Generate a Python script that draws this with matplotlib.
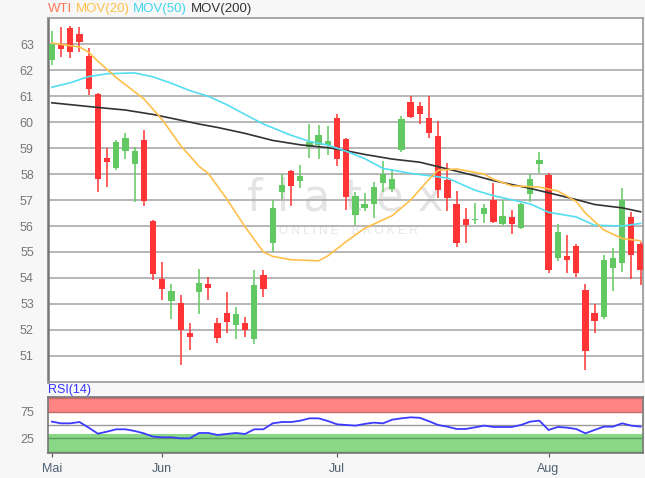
import matplotlib
matplotlib.use("Agg")
import matplotlib.pyplot as plt
import numpy as np

# daily candles (WTI)
opens = [62.40, 63.00, 63.62, 63.42, 62.55, 61.08, 58.63, 58.24, 58.91, 58.38,
         59.31, 56.19, 53.95, 53.12, 53.05, 51.86, 53.47, 53.76, 52.27, 52.65,
         52.20, 52.28, 51.66, 54.11, 55.33, 57.32, 58.13, 57.73, 59.03, 59.12,
         59.12, 60.15, 59.35, 56.44, 56.68, 56.83, 57.64, 57.41, 58.93, 60.79,
         60.62, 60.15, 59.47, 57.77, 56.83, 56.26, 56.22, 56.48, 57.02, 56.06,
         56.35, 55.93, 57.23, 58.39, 57.96, 54.77, 54.85, 55.24, 53.53, 52.65,
         52.50, 54.39, 54.56, 56.35, 55.29]
highs = [63.51, 63.68, 63.70, 63.66, 62.85, 61.11, 58.99, 59.31, 59.60, 59.04,
         59.70, 56.24, 54.62, 53.75, 53.36, 52.28, 54.33, 54.04, 52.44, 53.44,
         52.86, 52.50, 54.30, 54.30, 57.00, 57.99, 58.16, 58.35, 59.93, 59.89,
         59.85, 60.30, 59.40, 57.32, 57.28, 57.70, 58.50, 58.19, 60.25, 61.01,
         60.79, 61.01, 60.04, 58.41, 57.34, 56.68, 56.87, 56.83, 57.64, 57.00,
         56.61, 56.87, 57.99, 58.84, 58.03, 56.06, 55.65, 55.29, 53.75, 53.01,
         54.90, 55.16, 57.47, 56.55, 55.39]
lows = [62.20, 62.52, 62.49, 62.72, 61.05, 57.32, 57.51, 58.15, 58.60, 56.91,
        56.77, 53.91, 53.14, 52.43, 50.64, 51.24, 52.61, 53.15, 51.48, 51.89,
        51.66, 51.73, 51.47, 53.27, 55.00, 57.04, 56.78, 57.45, 58.63, 58.60,
        58.73, 58.32, 56.61, 56.03, 56.57, 56.32, 57.32, 57.32, 58.84, 60.15,
        59.95, 59.40, 57.09, 56.57, 55.20, 55.33, 56.06, 56.10, 56.10, 56.03,
        55.71, 55.88, 56.93, 58.03, 54.17, 54.65, 54.17, 54.04, 50.44, 51.86,
        52.41, 53.49, 54.23, 53.95, 53.72]
closes = [63.00, 62.81, 62.72, 63.08, 61.28, 57.83, 58.48, 59.25, 59.40, 58.91,
          56.97, 54.14, 53.59, 53.50, 51.98, 51.73, 53.81, 53.60, 51.67, 52.31,
          52.59, 51.98, 53.72, 53.59, 56.70, 57.58, 57.54, 57.94, 59.25, 59.50,
          59.27, 58.60, 57.13, 57.15, 56.83, 57.49, 57.99, 57.83, 60.11, 60.21,
          60.31, 59.57, 57.38, 57.09, 55.33, 56.03, 56.26, 56.71, 56.16, 56.38,
          56.06, 56.84, 57.83, 58.54, 54.30, 55.78, 54.68, 54.17, 51.19, 52.33,
          54.68, 54.77, 57.00, 54.88, 54.30]

# moving averages, sampled at candle indices
ma20_idx = [0, 3, 4, 5, 7, 10, 12, 14, 16, 17, 19, 21, 23, 24, 26, 29, 30, 32, 34,
            37, 39, 41, 42, 44, 47, 48, 50, 53, 55, 57, 58, 60, 62, 64]
ma20 = [63.05, 62.90, 62.70, 62.35, 61.72, 60.90, 60.10, 59.10, 58.30, 58.03, 57.05,
        55.97, 55.00, 54.83, 54.70, 54.66, 54.85, 55.40, 55.91, 56.40, 57.00, 57.80,
        58.15, 58.20, 58.00, 57.80, 57.55, 57.50, 57.35, 56.95, 56.50, 55.85, 55.52, 55.43]
ma50_idx = [0, 2, 4, 6, 9, 11, 13, 15, 17, 19, 21, 23, 26, 28, 30, 32, 34, 36, 39,
            43, 46, 48, 52, 54, 57, 59, 62, 64]
ma50 = [61.35, 61.52, 61.76, 61.87, 61.90, 61.75, 61.50, 61.22, 61.00, 60.68, 60.30,
        59.93, 59.50, 59.26, 59.12, 58.88, 58.60, 58.22, 58.03, 57.85, 57.38, 57.17,
        56.85, 56.53, 56.35, 56.03, 56.00, 56.10]
ma200_idx = [0, 5, 8, 11, 14, 16, 18, 21, 24, 27, 30, 32, 34, 37, 40, 43, 46, 48,
             52, 54, 57, 59, 62, 64]
ma200 = [60.75, 60.57, 60.47, 60.30, 60.08, 59.93, 59.80, 59.57, 59.30, 59.13, 59.02,
         58.90, 58.76, 58.58, 58.46, 58.20, 57.94, 57.75, 57.45, 57.28, 57.02, 56.83,
         56.70, 56.55]

rsi = [56.3, 53.1, 53.1, 55.6, 45.0, 33.7, 37.5, 41.9, 41.9, 38.7,
       34.3, 28.1, 26.8, 26.8, 24.9, 24.9, 35.0, 35.0, 31.2, 33.1,
       35.0, 33.1, 41.9, 41.9, 53.1, 55.6, 55.6, 58.0, 62.5, 62.5,
       57.5, 51.3, 50.0, 48.8, 52.0, 54.4, 53.1, 60.0, 62.5, 64.4,
       63.5, 57.0, 50.0, 46.9, 42.5, 42.5, 45.6, 48.8, 46.3, 46.3,
       46.3, 50.0, 56.3, 58.2, 40.6, 46.3, 45.0, 42.5, 34.3, 40.6,
       46.9, 46.9, 53.1, 48.8, 46.9]

month_pos = [0, 12, 31, 54]
month_labels = ["Mai", "Jun", "Jul", "Aug"]

plt.rcParams['font.family'] = ['Liberation Sans', 'DejaVu Sans']

RED = '#ff3535'
GREEN = '#62c862'

fig = plt.figure(figsize=(6.45, 4.78), dpi=100, facecolor='#f7f7f7')
ax = fig.add_axes([0.074, 0.2015, 0.9234, 0.7615])
ax2 = fig.add_axes([0.074, 0.0517, 0.9234, 0.1184])

x = np.arange(len(opens))
o = np.array(opens)
c = np.array(closes)
cols = [GREEN if cc >= oo else RED for oo, cc in zip(o, c)]
ax.vlines(x, lows, highs, colors=cols, linewidth=1.1, zorder=3)
ax.bar(x, np.maximum(np.abs(c - o), 0.05), bottom=np.minimum(o, c), width=0.68,
       color=cols, zorder=4)

ax.plot(ma200_idx, ma200, color='#333333', lw=1.2, zorder=5)
ax.plot(ma50_idx, ma50, color='#55ddf2', lw=1.2, zorder=5)
ax.plot(ma20_idx, ma20, color='#ffc04a', lw=1.2, zorder=5)

# watermark
ax.text(0.5, 0.505, "f l a t e x", transform=ax.transAxes, fontsize=32, color='#e4e4e4',
        ha='center', va='center', zorder=0.3, family='DejaVu Sans')
ax.text(0.505, 0.415, "O N L I N E    B R O K E R", transform=ax.transAxes, fontsize=8.5,
        color='#e6e6e6', ha='center', va='center', zorder=0.3)

ax.set_xlim(-0.45, 64.3)
ax.set_ylim(50.0, 64.03)
ax.set_yticks(range(51, 64))
ax.yaxis.grid(True, color='#aaaaaa', lw=1.2)
ax.set_axisbelow(True)
ax.set_xticks([])
ax.tick_params(axis='y', length=0, pad=10, labelsize=9, labelcolor='#777777')
for s in ax.spines.values():
    s.set_color('#999999')
    s.set_linewidth(1.2)
ax.spines['left'].set_color('#777777')
ax.spines['left'].set_linewidth(1.8)

# RSI panel
lo, hi = -3.2, 103.2
ax2.axhspan(74, hi, color='#ff8585', zorder=1, lw=0)
ax2.axhspan(lo, 34, color='#88d888', zorder=1, lw=0)
ax2.axhline(100, color='#c86a6a', lw=1.0, zorder=2)
ax2.axhline(75, color='#c86a6a', lw=1.0, zorder=2)
ax2.axhline(25, color='#5e9e5e', lw=1.0, zorder=2)
ax2.axhline(0, color='#5e9e5e', lw=1.0, zorder=2)
ax2.axhline(50, color='#999999', lw=1.0, zorder=2)
ax2.plot(x, rsi, color='#3b3bff', lw=1.3, zorder=3)
ax2.set_xlim(-0.45, 64.3)
ax2.set_ylim(lo, hi)
ax2.set_yticks([25, 75])
ax2.set_xticks(month_pos)
ax2.set_xticklabels(month_labels)
ax2.tick_params(axis='y', length=0, pad=10, labelsize=9, labelcolor='#777777')
ax2.tick_params(axis='x', length=3, color='#555555', labelsize=9, labelcolor='#4e5f70', pad=4)
for s in ax2.spines.values():
    s.set_color('#777777')
    s.set_linewidth(1.2)
ax2.text(0.0, 1.02, "RSI(14)", transform=ax2.transAxes, fontsize=9, color='#3333ff',
         ha='left', va='bottom')

# colored header legend
r = fig.canvas.get_renderer()
xpos = 48 / 645
for txt, col in [("WTI", '#ff7755'), ("MOV(20)", '#ffc04a'), ("MOV(50)", '#44d6f0'),
                 ("MOV(200)", '#333333')]:
    t = fig.text(xpos, 1 - 9 / 478, txt, fontsize=9.5, color=col, ha='left', va='center')
    bb = t.get_window_extent(renderer=r)
    xpos += (bb.width + 3.5) / fig.bbox.width

fig.savefig("out.png", dpi=100, facecolor=fig.get_facecolor())
